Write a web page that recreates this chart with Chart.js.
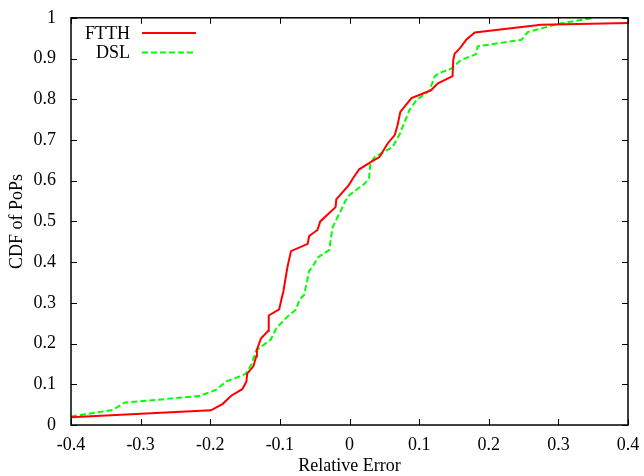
<!DOCTYPE html>
<html>
<head>
<meta charset="utf-8">
<script src="https://cdn.jsdelivr.net/npm/chart.js@4"></script>
<style>
  html, body { margin: 0; padding: 0; background: #fff; }
  #wrap { width: 644px; height: 476px; }
</style>
</head>
<body>
<div id="wrap"><canvas id="cdfChart" width="644" height="476"></canvas></div>
<script>
// CDF of relative error per PoP
const ftthX = [-0.4, -0.199, -0.182, -0.170, -0.154, -0.148, -0.147, -0.138, -0.134, -0.133,
    -0.127, -0.117, -0.116, -0.101, -0.098, -0.095, -0.091, -0.089, -0.084, -0.060,
    -0.058, -0.046, -0.042, -0.020, -0.019, -0.001, 0.005, 0.014, 0.031, 0.043,
    0.055, 0.065, 0.069, 0.073, 0.089, 0.117, 0.127, 0.148, 0.149, 0.151,
    0.159, 0.168, 0.180, 0.275, 0.4];
const ftthY = [0.019, 0.036, 0.052, 0.072, 0.088, 0.107, 0.126, 0.144, 0.168, 0.185,
    0.213, 0.231, 0.269, 0.284, 0.307, 0.328, 0.369, 0.389, 0.427, 0.445,
    0.464, 0.479, 0.500, 0.535, 0.554, 0.589, 0.606, 0.628, 0.646, 0.658,
    0.692, 0.712, 0.736, 0.769, 0.803, 0.822, 0.839, 0.857, 0.896, 0.912,
    0.926, 0.947, 0.964, 0.983, 0.987];

const dslX = [-0.4, -0.34, -0.323, -0.216, -0.192, -0.177, -0.158, -0.149, -0.141, -0.134,
    -0.113, -0.105, -0.088, -0.077, -0.072, -0.065, -0.058, -0.053, -0.045, -0.029,
    -0.026, -0.024, -0.012, -0.006, 0.000, 0.022, 0.028, 0.030, 0.037, 0.047,
    0.062, 0.072, 0.086, 0.096, 0.115, 0.122, 0.127, 0.146, 0.160, 0.182,
    0.184, 0.247, 0.256, 0.300, 0.35];
const dslY = [0.021, 0.037, 0.055, 0.071, 0.086, 0.107, 0.119, 0.126, 0.148, 0.183,
    0.210, 0.238, 0.268, 0.283, 0.307, 0.320, 0.378, 0.389, 0.412, 0.430,
    0.467, 0.487, 0.528, 0.550, 0.565, 0.593, 0.606, 0.643, 0.660, 0.668,
    0.683, 0.714, 0.773, 0.798, 0.821, 0.855, 0.863, 0.875, 0.896, 0.911,
    0.930, 0.946, 0.965, 0.985, 1.0];

const xTicks = [-0.4, -0.3, -0.2, -0.1, 0, 0.1, 0.2, 0.3, 0.4];
const yTicks = [0, 0.1, 0.2, 0.3, 0.4, 0.5, 0.6, 0.7, 0.8, 0.9, 1];

const serif = 'Liberation Serif, Times New Roman, serif';

function toPoints(xs, ys) {
    return xs.map((x, i) => ({ x: x, y: ys[i] }));
}

function fmt(v) {
    return String(Math.round(v * 10) / 10);
}

// gnuplot style frame: border on all four sides with inward ticks
const framePlugin = {
    id: 'frame',
    afterDatasetsDraw(chart) {
        const { ctx, chartArea: a, scales } = chart;
        const len = 6;
        ctx.save();
        ctx.strokeStyle = '#000';
        ctx.lineWidth = 1;
        ctx.beginPath();
        xTicks.forEach(v => {
            const px = Math.round(scales.x.getPixelForValue(v)) + 0.5;
            ctx.moveTo(px, a.bottom); ctx.lineTo(px, a.bottom - len);
            ctx.moveTo(px, a.top); ctx.lineTo(px, a.top + len);
        });
        yTicks.forEach(v => {
            const py = Math.round(scales.y.getPixelForValue(v)) + 0.5;
            ctx.moveTo(a.left, py); ctx.lineTo(a.left + len, py);
            ctx.moveTo(a.right, py); ctx.lineTo(a.right - len, py);
        });
        ctx.stroke();
        ctx.lineWidth = 1.5;
        ctx.strokeRect(a.left, a.top, a.right - a.left, a.bottom - a.top);

        // key, top left
        ctx.font = '18px ' + serif;
        ctx.textAlign = 'right';
        ctx.textBaseline = 'middle';
        chart.data.datasets.forEach((ds, i) => {
            const y = 33 + i * 19.5;
            ctx.fillStyle = '#000';
            ctx.fillText(ds.label, 130, y + 1);
            ctx.strokeStyle = ds.borderColor;
            ctx.lineWidth = ds.borderWidth;
            ctx.setLineDash(ds.borderDash || []);
            ctx.beginPath();
            ctx.moveTo(142, y);
            ctx.lineTo(196, y);
            ctx.stroke();
        });
        ctx.restore();
    }
};

const ctx = document.getElementById('cdfChart').getContext('2d');
const cdfChart = new Chart(ctx, {
    type: 'line',
    data: {
        datasets: [{
            label: 'FTTH',
            data: toPoints(ftthX, ftthY),
            borderColor: '#ff0000',
            borderWidth: 2,
            pointRadius: 0,
            tension: 0
        }, {
            label: 'DSL',
            data: toPoints(dslX, dslY),
            borderColor: '#00ff00',
            borderWidth: 2,
            borderDash: [6, 3],
            pointRadius: 0,
            tension: 0
        }]
    },
    options: {
        responsive: false,
        animation: false,
        layout: { padding: { left: 0, right: 16, top: 17, bottom: 0 } },
        plugins: {
            legend: { display: false },
            tooltip: { enabled: false }
        },
        scales: {
            x: {
                type: 'linear',
                min: -0.4,
                max: 0.4,
                afterBuildTicks: s => { s.ticks = xTicks.map(v => ({ value: v })); },
                afterFit: s => { s.height = 51; },
                grid: { display: false },
                border: { display: false },
                ticks: {
                    color: '#000',
                    font: { family: serif, size: 18 },
                    padding: 1,
                    maxRotation: 0,
                    callback: fmt
                },
                title: {
                    display: true,
                    text: 'Relative Error',
                    color: '#000',
                    font: { family: serif, size: 18 },
                    padding: { top: 0, bottom: -1 }
                }
            },
            y: {
                type: 'linear',
                min: 0,
                max: 1,
                afterBuildTicks: s => { s.ticks = yTicks.map(v => ({ value: v })); },
                afterFit: s => { s.width = 71; },
                grid: { display: false },
                border: { display: false },
                ticks: {
                    color: '#000',
                    font: { family: serif, size: 18 },
                    padding: 7,
                    callback: fmt
                },
                title: {
                    display: true,
                    text: 'CDF of PoPs',
                    color: '#000',
                    font: { family: serif, size: 18 },
                    padding: { top: 6, bottom: 0 }
                }
            }
        }
    },
    plugins: [framePlugin]
});
</script>
</body>
</html>
